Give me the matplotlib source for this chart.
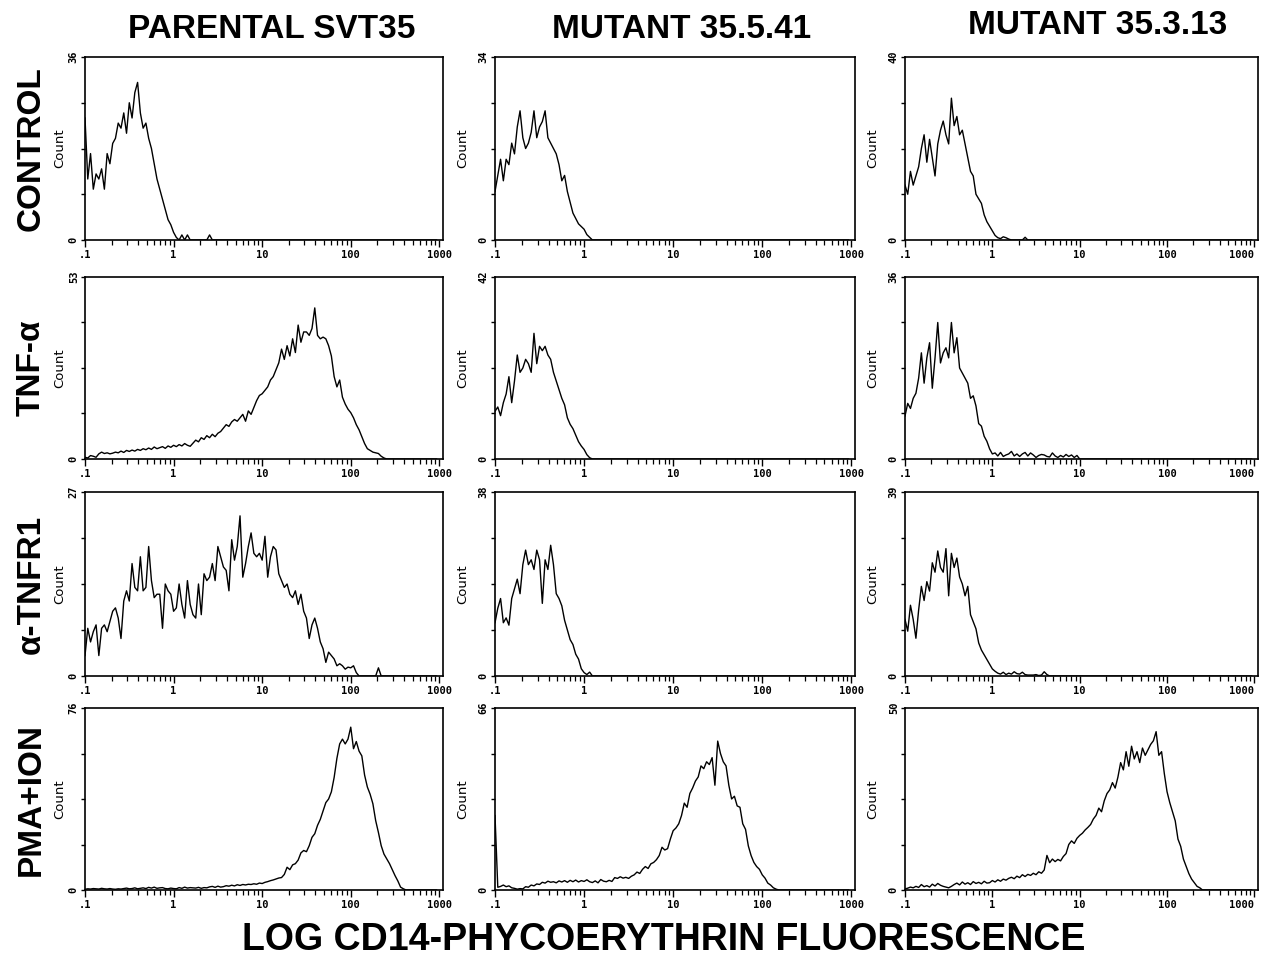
import matplotlib
matplotlib.use("Agg")
import matplotlib.pyplot as plt
import numpy as np

# histogram channels: 128 channels over 4 log decades starting at 0.1
N_CHANNELS = 128
DECADES = 4
X_MIN = 0.1

COLUMN_TITLES = ["PARENTAL SVT35", "MUTANT 35.5.41", "MUTANT 35.3.13"]
ROW_TITLES = ["CONTROL", "TNF-α", "α-TNFR1", "PMA+ION"]
X_LABEL = "LOG CD14-PHYCOERYTHRIN FLUORESCENCE"
X_TICKS = [0.1, 1, 10, 100, 1000]
X_TICKLABELS = [".1", "1", "10", "100", "1000"]

# y-axis maxima per panel (row, column)
Y_MAX = [[36, 34, 40],
         [53, 42, 36],
         [27, 38, 39],
         [76, 66, 50]]

# counts per channel, starting at channel 0 (trailing channels are empty)
control_parental = [24, 12, 17, 10, 13, 12, 14, 10, 17, 15, 19, 20, 23, 22, 25, 21,
                    27, 24, 29, 31, 25, 22, 23, 20, 18, 15, 12, 10, 8, 6, 4, 3,
                    1.5, 0.5, 0, 1, 0, 1, 0, 0, 0, 0, 0, 0, 0, 1, 0]
control_m541 = [9, 12, 15, 11, 15, 14, 18, 16, 21, 24, 19, 17, 18, 20, 24, 19,
                21, 22, 24, 19, 18, 17, 16, 14, 11, 12, 9, 7, 5, 4, 3, 2.5,
                2, 1, 0.5, 0]
control_m313 = [12, 10, 15, 12, 14, 16, 20, 23, 17, 22, 18, 14, 21, 24, 26, 23,
                21, 31, 25, 27, 23, 24, 21, 18, 15, 14, 10, 9, 8, 5.5, 4, 3,
                2, 1, 0.5, 0.3, 0.7, 0.5, 0.2, 0, 0, 0, 0, 0, 0.6, 0]

tnf_parental = [0.5, 0.3, 1, 0.8, 0.5, 1.5, 2, 1.6, 1.8, 1.5,
                1.7, 2, 1.8, 2.3, 1.9, 2.5, 2.2, 2.6, 2.3, 2.8,
                2.5, 3, 2.7, 3.2, 2.8, 3.5, 3.0, 3.3, 3.6, 3.1,
                3.8, 3.4, 4, 3.6, 4.2, 3.8, 4.5, 4.0, 3.7, 4.6,
                5.5, 5, 6.2, 5.7, 6.8, 6.2, 7.2, 6.5, 7.5, 8.0,
                9, 10, 9.5, 10.8, 11.5, 11, 12, 13, 11, 14,
                13, 15, 17, 18.5, 19, 20, 21, 23, 24, 26,
                28, 32, 29, 33, 30, 35, 31, 39, 34, 37,
                37, 36, 38, 44, 36, 35, 35.5, 35, 33, 30,
                24, 21, 23, 18, 16, 14.5, 13.5, 12, 10, 8.5,
                6.5, 4.5, 3, 2.5, 2, 1.8, 1.6, 0.8, 0.3, 0]
tnf_m541 = [11, 12, 10, 13, 15, 19, 13, 18, 24, 20, 21, 23, 22, 20, 29, 22,
            26, 25, 26, 24, 23, 20, 18, 16, 14, 12.5, 9.5, 8, 7, 5.5, 4, 3,
            2.2, 1.0, 0.3, 0]
tnf_m313 = [8.5, 11, 10, 12, 13, 16, 21, 15, 20, 23, 14, 20, 27, 19, 21, 22,
            20, 27, 21, 24, 18, 17, 16, 15, 12, 12.5, 10.5, 7, 6.5, 4.5, 3.5, 2,
            1, 1.2, 0.6, 1.3, 0.5, 0.8, 1.0, 1.5, 0.6, 1.0, 0.5, 1.0, 1.3, 0.6,
            1.2, 0.8, 0.3, 0.7, 0.9, 0.8, 0.5, 0.4, 1.2, 0.6, 0.3, 0.7, 0.4, 0.9,
            0.5, 0.8, 0.3, 0.7, 0]

tnfr1_parental = [3, 7, 5, 6.5, 7.5, 3, 7, 7.5, 6.5, 8,
                  9.5, 10, 8.5, 5.5, 11, 12.5, 11, 16.5, 13, 12.5,
                  17.5, 12.5, 13, 19, 14, 11.5, 12, 12, 7, 13.5,
                  12.5, 12, 9.5, 10, 13.5, 10.5, 8.5, 14, 10.5, 9,
                  8.5, 13.5, 9, 15, 14, 14.5, 16.5, 14, 19, 17.5,
                  16, 15.5, 12.5, 20, 17, 19, 23.5, 14.5, 16.5, 19,
                  21, 18, 17.5, 18, 17, 20.5, 14.5, 17.5, 19, 18.5,
                  15, 14, 13, 13.5, 12, 11.5, 12.5, 10.5, 12, 9.5,
                  8.5, 5.5, 7.5, 8.5, 7, 5, 4, 2, 3.5, 3,
                  2.5, 1.5, 1.8, 1.5, 1, 1.3, 1.2, 1.5, 0.5, 0,
                  0, 0, 0, 0, 0, 0, 1.2, 0]
tnfr1_m541 = [11, 14, 16, 11, 12, 10.5, 16, 18, 20, 17, 23, 26, 23, 24, 22, 26,
              24, 15, 24, 22, 27, 23, 17, 16, 14.5, 11.5, 9.5, 7.5, 6.5, 4.5, 3.5, 1.5,
              0.7, 0.3, 0.8, 0]
tnfr1_m313 = [12, 9.5, 15, 12, 8, 14, 19, 16, 20, 18, 24, 22, 26.5, 23, 22, 27,
              17, 26, 23, 25, 21, 19.5, 17, 19, 13, 11.5, 10, 7, 5.5, 4.5, 3.5, 2.5,
              1.5, 1, 0.6, 0.4, 0.8, 0.3, 0.6, 0.4, 0.9, 0.5, 0.4, 0.8, 0.3, 0.2,
              0.2, 0.2, 0.3, 0.1, 0.2, 0.9, 0.3, 0]

pma_parental = [0.3, 0.5, 0.4, 0.6, 0.5, 0.4, 0.7, 0.5, 0.4, 0.6,
                0.4, 0.3, 0.5, 0.4, 0.6, 0.8, 0.5, 0.6, 0.9, 0.5,
                0.7, 0.9, 0.6, 1.1, 0.8, 1.2, 0.7, 0.9, 1.0, 0.6,
                0.5, 0.8, 0.6, 0.5, 1.0, 0.7, 1.2, 0.8, 1.0, 0.9,
                0.8, 1.1, 0.7, 1.0, 0.9, 1.3, 1.5, 1.1, 1.6, 1.2,
                1.4, 1.8, 1.6, 2.0, 1.7, 2.2, 1.9, 2.3, 2.1, 2.4,
                2.3, 2.6, 2.4, 2.9, 2.7, 3.2, 3.5, 3.9, 4.2, 4.6,
                5.0, 5.2, 6.5, 9.5, 8.5, 10.5, 11, 12.5, 15.5, 16.5,
                16, 18.5, 22, 23.5, 27, 29.5, 33, 36.5, 38, 41,
                47, 55, 61, 63, 61, 63, 68, 59, 62, 58,
                56, 48, 43, 40, 36, 29, 24, 18.5, 15, 13,
                11, 8.5, 6, 3.8, 1.2, 0.5, 0]
pma_m541 = [27, 1, 1.3, 1.8, 1.2, 1.5, 0.8, 0.6, 0.3, 0.5,
            0.4, 1.2, 1.0, 1.8, 1.5, 2.2, 2.0, 2.8, 2.5, 3.2,
            2.8, 3.0, 2.6, 3.3, 2.9, 3.4, 2.8, 3.5, 3.0, 3.6,
            2.9, 3.4, 3.1, 3.7, 3.0, 2.7, 3.3, 2.6, 3.8, 3.2,
            3.0, 3.5, 3.1, 4.5, 4.2, 4.8, 4.3, 4.6, 4.2, 5.0,
            5.5, 6.5, 6.0, 7.5, 8.5, 7.8, 9.5, 10.0, 11.0, 12.5,
            15.5, 14.5, 15.0, 18.5, 21.5, 22.5, 24, 27, 31.5, 30,
            35, 37, 39.5, 41, 45, 44, 46.5, 45.5, 48, 38,
            54, 49.5, 46.5, 45, 38, 33, 34, 30.5, 30, 24,
            22, 16, 12.5, 10, 8.5, 7.5, 5.5, 4.3, 2.5, 1.8,
            0.8, 0.3, 0]
pma_m313 = [0.3, 0.5, 0.8, 0.6, 1.0, 0.7, 1.5, 0.9, 1.2, 0.8,
            1.6, 1.1, 1.8, 1.3, 1.0, 0.8, 0.6, 1.0, 1.5, 1.9,
            1.4, 2.2, 1.6, 2.0, 1.5, 2.3, 1.8, 2.1, 1.7, 2.4,
            1.9, 2.0, 2.6, 2.2, 2.8, 2.4, 3.0, 2.7, 3.2, 3.5,
            3.1, 3.8, 3.4, 4.2, 3.7, 4.3, 4.0, 4.6, 4.2, 5.0,
            4.6, 5.5, 9.5, 7.5, 8.5, 7.8, 8.4, 8.0, 9.2, 10.0,
            12.5, 13.5, 12.8, 14.2, 15.0, 15.6, 16.5, 17.2, 18.0, 19.5,
            20.5, 22.5, 21.5, 24.5, 26.5, 27.5, 29.5, 28.0, 31, 35,
            33, 38, 34, 39.5, 36, 38, 35, 39, 37, 38.5,
            40, 41, 43.5, 37, 38, 32, 27, 24, 21.5, 19,
            14, 12, 8.5, 6.5, 4.5, 3.0, 2.0, 1.0, 0.6, 0]

COUNTS = [[control_parental, control_m541, control_m313],
          [tnf_parental, tnf_m541, tnf_m313],
          [tnfr1_parental, tnfr1_m541, tnfr1_m313],
          [pma_parental, pma_m541, pma_m313]]

FIG_W, FIG_H = 1261, 958
COL_X = [(85, 443), (495, 855), (905, 1258)]
ROW_Y = [(57, 240), (277, 459), (492, 676), (708, 890)]
COUNT_PAD = [2, 7, 7]

TITLE_FONT = ["Liberation Sans", "DejaVu Sans"]
TICK_FONT = "DejaVu Sans Mono"


def main():
    fig = plt.figure(figsize=(FIG_W / 100, FIG_H / 100), dpi=100)
    fig.patch.set_facecolor("white")

    channel_x = X_MIN * 10 ** (DECADES * np.arange(N_CHANNELS) / N_CHANNELS)

    for r in range(4):
        for c in range(3):
            x0, x1 = COL_X[c]
            y0, y1 = ROW_Y[r]
            ax = fig.add_axes([x0 / FIG_W, 1 - y1 / FIG_H,
                               (x1 - x0) / FIG_W, (y1 - y0) / FIG_H])
            counts = np.zeros(N_CHANNELS)
            vals = COUNTS[r][c]
            counts[:len(vals)] = vals
            ax.plot(channel_x, counts, color="black", lw=1.0)

            ymax = Y_MAX[r][c]
            ax.set_xscale("log")
            ax.set_xlim(0.1, 1100)
            ax.set_ylim(0, ymax)

            ax.set_xticks(X_TICKS)
            labels = ax.set_xticklabels(X_TICKLABELS, family=TICK_FONT,
                                        fontweight="bold", fontsize=7.5)
            if c == 2:
                labels[-1].set_horizontalalignment("right")
            ax.xaxis.set_minor_locator(matplotlib.ticker.LogLocator(
                base=10, subs=np.arange(2, 10)))
            ax.xaxis.set_minor_formatter(matplotlib.ticker.NullFormatter())
            ax.tick_params(axis="x", which="major", direction="out",
                           length=5, width=1.0, pad=2)
            ax.tick_params(axis="x", which="minor", direction="out",
                           length=3.5, width=0.9)

            yt = [ymax * f for f in (0, 0.25, 0.5, 0.75, 1.0)]
            ax.set_yticks(yt)
            ax.set_yticklabels(["0", "", "", "", str(ymax)], family=TICK_FONT,
                               fontweight="bold", fontsize=7.5,
                               rotation=90, va="center")
            ax.tick_params(axis="y", direction="out", length=3, width=1.0,
                           pad=1.5)
            ax.set_ylabel("Count", fontsize=9.5, labelpad=COUNT_PAD[c])

            for s in ax.spines.values():
                s.set_linewidth(1.2)
                s.set_color("black")

    # column titles
    title_x = [272, 682, 1098]
    title_y = [30, 30, 25]
    for c, t in enumerate(COLUMN_TITLES):
        fig.text(title_x[c] / FIG_W, 1 - title_y[c] / FIG_H, t,
                 family=TITLE_FONT, fontweight="bold", fontsize=24,
                 ha="center", va="center")

    # row titles
    for r, t in enumerate(ROW_TITLES):
        yc = (ROW_Y[r][0] + ROW_Y[r][1]) / 2
        fig.text(31 / FIG_W, 1 - yc / FIG_H, t,
                 family=TITLE_FONT, fontweight="bold", fontsize=24,
                 rotation=90, ha="center", va="center")

    fig.text(664 / FIG_W, 1 - 940 / FIG_H, X_LABEL,
             family=TITLE_FONT, fontweight="bold", fontsize=27,
             ha="center", va="center")

    fig.savefig("out.png", dpi=100, facecolor="white")
    plt.close(fig)


if __name__ == "__main__":
    main()
